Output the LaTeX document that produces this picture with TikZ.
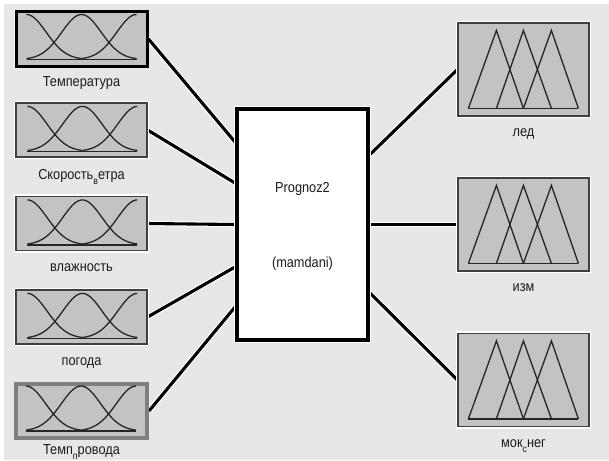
\documentclass[tikz,border=0pt]{standalone}
\usepackage{fontspec}
\setmainfont{Liberation Sans}[FakeStretch=0.88]
\usepackage{xcolor}
\usetikzlibrary{calc}
\definecolor{bggray}{HTML}{E7E7E7}
\definecolor{boxgray}{HTML}{C3C3C3}
\definecolor{framegray}{HTML}{7F7F7F}
\definecolor{textgray}{HTML}{1C1C1C}
\newcommand{\lowidx}[1]{\raisebox{-5pt}{\fontsize{10}{11}\selectfont #1}}
\pgfdeclarelayer{bg}
\pgfsetlayers{bg,main}

\begin{document}
\begin{tikzpicture}
[
x=1pt,y=-1pt,
font=\fontsize{14.5}{16}\selectfont,
mfbox/.style={fill=boxgray,inner sep=0pt,minimum width=131pt,
            draw=black!75,line width=1.2pt,
            preaction={draw=white,line width=4.2pt}},
inbox/.style={mfbox,minimum height=54pt},
outbox/.style={mfbox,minimum height=93pt},
sysbox/.style={draw=black,line width=4pt,fill=white,minimum width=131pt,
            minimum height=231pt,inner sep=0pt,
            preaction={draw=white,line width=6.5pt}},
lbl/.style={inner sep=0pt,anchor=base,text=textgray},
mf/.style={line width=1.3pt,black!85},
wire/.style={line width=3.1pt,black,preaction={draw=white,line width=5.2pt}},
]
\useasboundingbox (0,0) rectangle (609,460);

%background
\begin{pgfonlayer}{bg}
\fill[bggray] (4,4) rectangle (609,460);
\end{pgfonlayer}

%Place the nodes
\node[inbox,draw=black,line width=3pt] (in1) at (81.5,39) {};	%temperature
\node[inbox] (in2) at (81.5,130) {};
\node[inbox] (in3) at (81.5,223.5) {};
\node[inbox] (in4) at (81.5,317) {};
\node[inbox,draw=framegray,line width=4pt] (in5) at (81.5,411) {};

\node[sysbox] (sys) at (302.5,224.5) {};

\node[outbox] (out1) at (523.5,69.5) {};
\node[outbox] (out2) at (523.5,224.5) {};
\node[outbox] (out3) at (523.5,380) {};

%labels
\node[lbl] (t1) at ($(in1.south)+(0,19)$) {Температура};
\node[lbl] (t2) at ($(in2.south)+(0,22)$) {Скорость\lowidx{в}етра};
\node[lbl] (t3) at ($(in3.south)+(0,20)$) {влажность};
\node[lbl] (t4) at ($(in4.south)+(0,21)$) {погода};
\node[lbl] (t5) at (81.5,454) {Темп\lowidx{п}ровода};
\node[lbl] (sysname) at (302.5,192) {Prognoz2};
\node[lbl] (systype) at (302.5,267) {(mamdani)};
\node[lbl] (u1) at ($(out1.south)+(0,20)$) {лед};
\node[lbl] (u2) at ($(out2.south)+(0,20)$) {изм};
\node[lbl] (u3) at ($(out3.south)+(0,20)$) {мок\lowidx{с}нег};

%membership functions of the inputs
\foreach \n in {in1,in2,in3,in4,in5}{
  \begin{scope}[shift={(\n.north west)}]
    \draw[mf] plot[domain=12:67,samples=30,smooth] (\x,{49-45*exp(-((\x-12)^2)/776)});
    \draw[mf] plot[domain=12:122,samples=50,smooth] (\x,{49-45*exp(-((\x-67)^2)/776)});
    \draw[mf] plot[domain=67:122,samples=30,smooth] (\x,{49-45*exp(-((\x-122)^2)/776)});
    \draw[mf] (12,49) -- (122,49);
  \end{scope}
}
%membership functions of the outputs
\foreach \n in {out1,out2,out3}{
  \begin{scope}[shift={(\n.north west)}]
    \draw[mf,line join=miter] (11,86) -- (39,8) -- (66,86);
    \draw[mf,line join=miter] (39,86) -- (66,8) -- (94,86);
    \draw[mf,line join=miter] (66,86) -- (94,8) -- (121,86);
    \draw[mf] (11,86) -- (121,86);
  \end{scope}
}

%connections
\begin{pgfonlayer}{bg}
\draw[wire] (in1.east) -- ($(sys.west)+(0,-82.5)$);
\draw[wire] (in2.east) -- ($(sys.west)+(0,-41.5)$);
\draw[wire] (in3.east) -- ($(sys.west)+(0,0)$);
\draw[wire] (in4.east) -- ($(sys.west)+(0,42.5)$);
\draw[wire] (in5.east) -- ($(sys.west)+(0,82.5)$);
\draw[wire] ($(sys.east)+(0,-70)$) -- (out1.west);
\draw[wire] (sys.east) -- (out2.west);
\draw[wire] ($(sys.east)+(0,68.5)$) -- (out3.west);
\end{pgfonlayer}
\end{tikzpicture}
\end{document}
